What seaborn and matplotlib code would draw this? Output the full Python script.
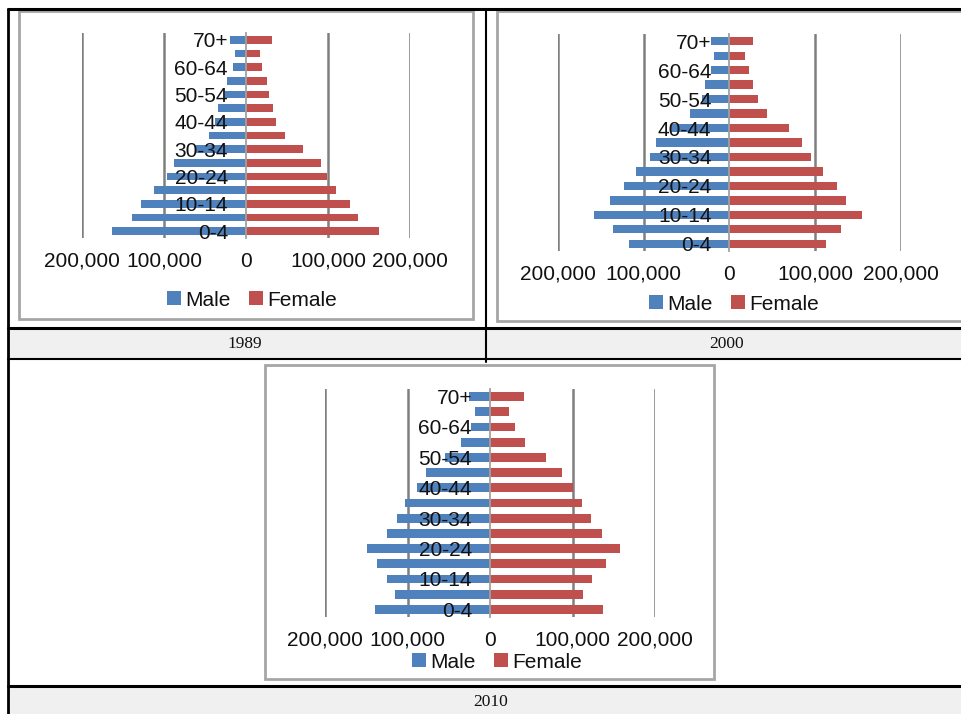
import pandas as pd
import numpy as np
import seaborn as sns
import matplotlib.pyplot as plt
from matplotlib.patches import Rectangle
from matplotlib.lines import Line2D
from matplotlib.ticker import FuncFormatter

# Step 1: Data (age groups from youngest to oldest)
ages = ['0-4', '5-9', '10-14', '15-19', '20-24', '25-29', '30-34', '35-39',
        '40-44', '45-49', '50-54', '55-59', '60-64', '65-69', '70+']
years = ['1989', '2000', '2010']

male_1989 = [164000, 139000, 128000, 112000, 96000, 88000, 62000, 45500,
             38000, 34500, 26000, 23000, 16000, 13000, 20000]
female_1989 = [162000, 136000, 127000, 110000, 99000, 91000, 69000, 47000,
               36000, 33000, 27500, 26000, 19000, 17500, 32000]

male_2000 = [117000, 136000, 158000, 139000, 123000, 109000, 93000, 86000,
             68000, 46000, 32000, 29000, 22000, 17500, 21000]
female_2000 = [112000, 130000, 154000, 136000, 125000, 108500, 94500, 85000,
               69000, 44000, 33000, 27500, 22500, 18000, 27500]

male_2010 = [140000, 115000, 125000, 137000, 149000, 125000, 113000, 103000,
             88000, 78000, 55000, 35000, 23000, 18000, 25000]
female_2010 = [137500, 113000, 123500, 140000, 158000, 136000, 122500, 111000,
               100000, 87500, 68000, 42500, 30000, 23500, 41000]

males = [male_1989, male_2000, male_2010]
females = [female_1989, female_2000, female_2010]

# Step 2: Style
sns.set_style("white")
plt.rcParams['font.family'] = ['Liberation Sans', 'DejaVu Sans']
plt.rcParams['axes.axisbelow'] = False
palette = {'Male': '#4f81bd', 'Female': '#c0504d'}
W, H = 962, 714

fig = plt.figure(figsize=(W / 100, H / 100), dpi=100)


def frac_rect(left, top, right, bottom):
    return [left / W, 1 - bottom / H, (right - left) / W, (bottom - top) / H]


def fig_line(x0, y0, x1, y1, lw=2.0, color='black'):
    fig.add_artist(Line2D([x0 / W, x1 / W], [1 - y0 / H, 1 - y1 / H],
                          color=color, lw=lw, transform=fig.transFigure,
                          zorder=-1))


def fig_box(left, top, right, bottom, **kw):
    fig.add_artist(Rectangle((left / W, 1 - bottom / H), (right - left) / W,
                             (bottom - top) / H, transform=fig.transFigure,
                             zorder=-2, **kw))


# Step 3: Table frame and caption cells
fig_box(9, 330, 964, 358, facecolor='#f0f0f0', edgecolor='none')
fig_box(9, 688, 964, 716, facecolor='#f0f0f0', edgecolor='none')
fig_line(8, 9, 962, 9, lw=2.2)
fig_line(8, 9, 8, 714, lw=2.0)
fig_line(486, 9, 486, 362, lw=1.5)
fig_line(8, 328, 962, 328, lw=2.2)
fig_line(8, 359, 962, 359, lw=1.5)
fig_line(8, 686, 962, 686, lw=2.2)
caption_pos = [(245, 344), (727, 344), (491, 702)]
for yr, (cx, cy) in zip(years, caption_pos):
    fig.text(cx / W, 1 - cy / H, yr, ha='center', va='center',
             family='Liberation Serif', fontsize=12.5, color='#111111')

# Step 4: Chart boxes, plot areas and legend positions
boxes = [(19, 11, 473, 319), (497, 11, 964, 321), (265, 365, 714, 679)]
plot_areas = [(82, 33, 410, 238), (558, 34, 901, 251), (325, 389, 655, 617)]
legend_pos = [(252, 300), (734, 304), (497, 662)]

order = ages[::-1]
for i in range(3):
    fig_box(*boxes[i], facecolor='white', edgecolor='#a6a6a6', lw=2.0)

    df = pd.concat([
        pd.DataFrame({'age': ages, 'sex': 'Male', 'pop': -np.array(males[i])}),
        pd.DataFrame({'age': ages, 'sex': 'Female', 'pop': np.array(females[i])}),
    ])

    ax = fig.add_axes(frac_rect(*plot_areas[i]))
    ax.patch.set_alpha(0)
    sns.barplot(data=df, x='pop', y='age', hue='sex', order=order,
                hue_order=['Male', 'Female'], palette=palette, dodge=False,
                width=0.58, saturation=1, ax=ax)
    for p in ax.patches:
        p.set_zorder(2)
        p.set_edgecolor('none')
    ax.set_xlim(-200000, 200000)
    ax.set_ylim(14.5, -0.5)
    for gx in [-200000, -100000, 100000, 200000]:
        ax.axvline(gx, color='#7f7f7f', lw=1.8, zorder=0.5)

    for s in ['top', 'right', 'bottom']:
        ax.spines[s].set_visible(False)
    ax.spines['left'].set_position(('data', 0))
    ax.spines['left'].set_color('#a0a0a0')
    ax.spines['left'].set_linewidth(1.3)
    ax.spines['left'].set_zorder(2.5)

    ax.set_xticks([-200000, -100000, 0, 100000, 200000])
    ax.xaxis.set_major_formatter(FuncFormatter(lambda v, p: f"{abs(int(v)):,}"))
    ax.set_yticks(range(0, 15, 2))
    ax.set_yticklabels([order[k] for k in range(0, 15, 2)])
    ax.tick_params(axis='x', length=0, pad=10, labelsize=15, labelcolor='#111111')
    ax.tick_params(axis='y', length=0, pad=13, labelsize=15, labelcolor='#111111')
    ax.xaxis.set_zorder(3)
    ax.yaxis.set_zorder(3)
    ax.set_xlabel('')
    ax.set_ylabel('')

    handles, labels = ax.get_legend_handles_labels()
    ax.get_legend().remove()
    lx, ly = legend_pos[i]
    fig.legend(handles, labels, loc='center', bbox_to_anchor=(lx / W, 1 - ly / H),
               ncol=2, frameon=False, fontsize=15, handlelength=0.65,
               handleheight=0.65, handletextpad=0.2, columnspacing=0.9,
               borderpad=0, borderaxespad=0, labelcolor='#111111')

plt.savefig("out.png", dpi=100)
